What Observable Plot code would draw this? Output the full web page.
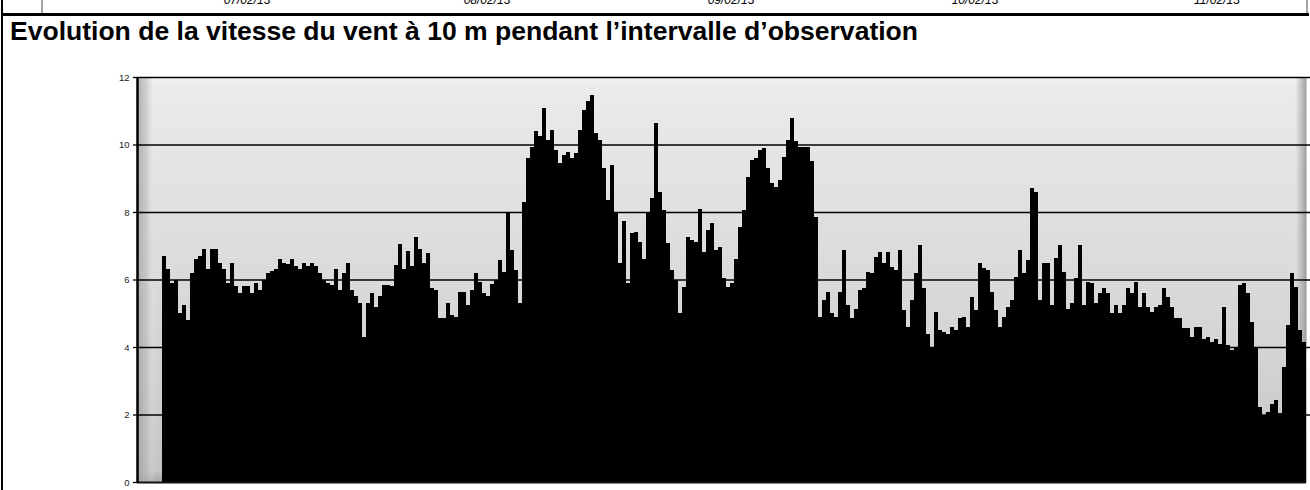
<!DOCTYPE html>
<html>
<head>
<meta charset="utf-8">
<script src="https://cdn.jsdelivr.net/npm/d3@7"></script>
<script src="https://cdn.jsdelivr.net/npm/@observablehq/plot@0.6"></script>
<style>
html, body { margin: 0; padding: 0; background: #fff; }
#wrap { position: relative; width: 1310px; height: 490px; overflow: hidden; font-family: "Liberation Sans", Arial, sans-serif; }
#chart { position: absolute; left: 0; top: 0; }
#deco { position: absolute; left: 0; top: 0; pointer-events: none; }
</style>
</head>
<body>
<div id="wrap">
  <div id="chart"></div>
  <svg id="deco" width="1310" height="490"></svg>
</div>
<script>
// Title and header texts
const titleText = "Evolution de la vitesse du vent à 10 m pendant l’intervalle d’observation";
const stripDates = ["07/02/13", "08/02/13", "09/02/13", "10/02/13", "11/02/13"];

// Y axis ticks (m/s)
const yTicks = [0, 2, 4, 6, 8, 10, 12];

const speed = [
  6.7, 6.3, 5.9, 6.0, 5.0, 5.25, 4.8, 6.2, 6.6, 6.7, 6.9, 6.3, 6.9, 6.9, 6.5, 6.3, 5.9, 6.5, 5.8, 5.6,
  5.8, 5.8, 5.6, 5.9, 5.7, 6.0, 6.2, 6.25, 6.3, 6.6, 6.5, 6.45, 6.6, 6.4, 6.3, 6.5, 6.4, 6.5, 6.4, 6.2,
  6.0, 5.9,
  5.85, 6.3, 5.7, 6.2, 6.5, 5.7, 5.5, 5.3, 4.3, 5.3, 5.6, 5.2, 5.5, 5.85, 5.85, 5.8, 6.43, 7.05, 6.3, 6.85,
  6.4, 7.25, 6.9, 6.5, 6.8, 5.74, 5.7, 4.85, 4.85, 5.3, 4.95, 4.9, 5.64, 5.64,
  5.24, 5.69, 6.2, 5.93, 5.59, 5.5, 5.88, 5.98, 6.58, 6.23, 7.96, 6.87, 6.28, 5.29, 8.3, 9.6, 9.94, 10.39,
  10.24, 11.08, 10.14, 10.44, 9.84, 9.45, 9.69, 9.79, 9.6, 9.74, 10.44, 11.03, 11.28, 11.47, 10.34, 10.14,
  9.3, 8.36,
  9.4, 7.96, 6.5, 7.72, 5.89, 7.37, 7.42, 7.12, 6.6, 8.0, 8.41, 10.63, 8.6, 8.06, 7.07, 6.28, 6.0, 5.0,
  5.79, 7.27, 7.17, 7.12, 8.1, 6.82, 7.47, 7.67, 6.87, 6.97, 6.03, 5.79, 5.89, 6.6, 7.57, 8.06, 9.05, 9.55,
  9.6,
  9.84, 9.9, 9.3, 8.85, 8.75, 8.95, 9.64, 10.14, 10.78, 10.09, 9.94, 9.94, 9.94, 9.5, 7.86, 4.9, 5.39, 5.64,
  5.0, 4.9, 5.64, 6.87, 5.24, 4.85, 5.14, 5.69, 5.74, 6.23, 6.18, 6.68, 6.82, 6.48, 6.82, 6.38, 6.28, 6.87,
  5.1,
  4.6, 5.39, 6.18, 7.02, 5.74, 4.4, 4.0, 5.04, 4.5, 4.45, 4.4, 4.6, 4.5, 4.85, 4.9, 4.6, 5.49, 5.1,
  6.48, 6.33, 6.28, 5.64, 5.1, 4.6, 4.9, 5.2, 5.39, 6.08, 6.87, 6.18, 6.58, 8.7, 8.6, 5.39, 6.48,
  6.48, 5.24, 6.63, 7.02, 6.23, 5.14, 5.29, 6.03, 7.02, 5.24, 5.93, 5.89, 5.29, 5.59, 5.74, 5.59, 5.0, 5.24,
  5.0, 5.24, 5.74, 5.59, 5.93, 5.2, 5.59, 5.2, 5.04, 5.2, 5.24, 5.74, 5.49, 5.2, 4.85, 4.85, 4.55, 4.55,
  4.3,
  4.6, 4.6, 4.25, 4.3, 4.15, 4.25, 4.1, 5.19, 4.05, 3.9, 4.0, 5.84, 5.89, 5.59, 4.75, 3.96, 2.23, 1.98,
  2.08, 2.32, 2.42, 2.03, 3.41, 4.65, 6.18, 5.79, 4.5, 4.15
];

const data = speed.map((v, i) => ({ i, v }));
const xStart = -6.25;           // blank space between the axis and the first bar
const xEnd = speed.length;

// gradient definitions for the bevelled plot background
const defsMark = () => {
  const defs = d3.create("svg:defs");
  const v = defs.append("linearGradient").attr("id", "bgV").attr("x1", 0).attr("y1", 0).attr("x2", 0).attr("y2", 1);
  [[0, "#f4f4f4"], [0.02, "#ebebeb"], [0.35, "#dfdfdf"], [0.75, "#d1d1d1"], [0.97, "#c4c4c4"], [1, "#a8a8a8"]]
    .forEach(([o, c]) => v.append("stop").attr("offset", o).attr("stop-color", c));
  const h = defs.append("linearGradient").attr("id", "bgH").attr("x1", 0).attr("y1", 0).attr("x2", 1).attr("y2", 0);
  [[0, "#9a9a9a", 0.7], [0.008, "#b5b5b5", 0.5], [0.016, "#ffffff", 0.0], [0.988, "#ffffff", 0.0], [0.994, "#b0b0b0", 0.5], [1, "#8a8a8a", 0.8]]
    .forEach(([o, c, a]) => h.append("stop").attr("offset", o).attr("stop-color", c).attr("stop-opacity", a));
  return defs.node();
};

const chart = Plot.plot({
  width: 1310,
  height: 490,
  marginLeft: 137,
  marginRight: 4,
  marginTop: 77,
  marginBottom: 8,
  style: { background: "transparent", fontFamily: "'Liberation Sans', Arial, sans-serif", color: "#000" },
  x: { domain: [xStart, xEnd], axis: null },
  y: { domain: [0, 12], axis: null },
  marks: [
    defsMark,
    Plot.frame({ fill: "url(#bgV)", stroke: null }),
    Plot.frame({ fill: "url(#bgH)", stroke: null }),
    Plot.ruleY(yTicks.filter(d => d > 0), { x1: () => xStart, x2: () => xEnd + 1, stroke: "#000", strokeWidth: 1.3 }),
    Plot.rectY(data, { x1: "i", x2: d => d.i + 1, y: "v", fill: "#000", inset: 0, shapeRendering: "crispEdges" }),
    Plot.ruleY([0], { stroke: "#111", strokeWidth: 2 }),
    Plot.ruleX([xStart], { stroke: "#000", strokeWidth: 2.5 }),
    Plot.axisY({ ticks: yTicks, label: null, tickSize: 4, tickPadding: 4, fontSize: 9.5, stroke: "#000", strokeWidth: 1.3, fill: "#222" })
  ]
});
document.getElementById("chart").append(chart);

// decorations: frame of the page, cut-off header row (as in the reference), title
const deco = d3.select("#deco");
deco.append("line").attr("x1", 2).attr("x2", 2).attr("y1", 0).attr("y2", 490).attr("stroke", "#000").attr("stroke-width", 2);
deco.append("line").attr("x1", 1).attr("x2", 1309).attr("y1", 14.5).attr("y2", 14.5).attr("stroke", "#000").attr("stroke-width", 3);
deco.append("line").attr("x1", 42).attr("x2", 42).attr("y1", 0).attr("y2", 13).attr("stroke", "#444").attr("stroke-width", 1);
deco.append("line").attr("x1", 1307).attr("x2", 1307).attr("y1", 0).attr("y2", 13).attr("stroke", "#444").attr("stroke-width", 1);
const dateX = [247, 487, 731, 975, 1217];
deco.selectAll("text.date").data(stripDates).join("text")
  .attr("class", "date")
  .attr("x", (d, i) => dateX[i]).attr("y", 4)
  .attr("text-anchor", "middle")
  .attr("font-family", "'Liberation Sans', Arial, sans-serif")
  .attr("font-style", "italic").attr("font-size", 12).attr("fill", "#000")
  .text(d => d);
deco.append("text")
  .attr("x", 10).attr("y", 40)
  .attr("font-family", "'Liberation Sans', Arial, sans-serif")
  .attr("font-weight", "bold").attr("font-size", 26).attr("fill", "#000")
  .attr("textLength", 908).attr("lengthAdjust", "spacingAndGlyphs")
  .text(titleText);
</script>
</body>
</html>
